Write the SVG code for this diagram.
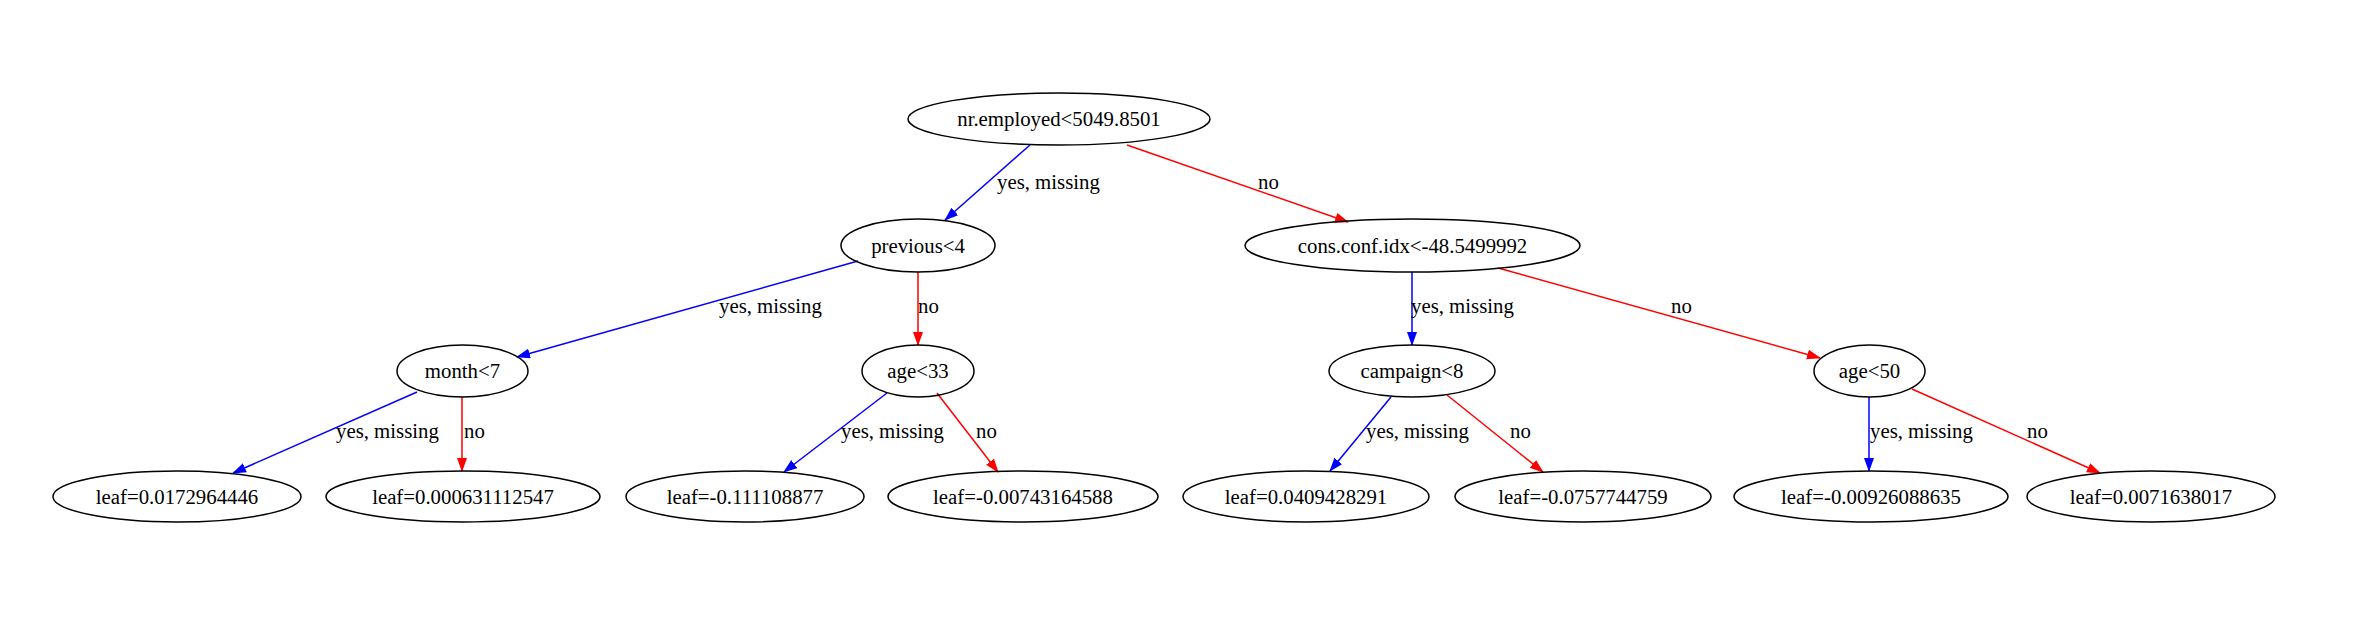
<svg xmlns="http://www.w3.org/2000/svg" width="2359" height="636" viewBox="0 0 2359 636">
<style>
  .node ellipse { fill: none; stroke: #000; stroke-width: 1.5; }
  .node text { font-family: "Liberation Serif", "Times New Roman", serif; font-size: 20.8px; text-anchor: middle; fill: #000; }
  .edge { fill: none; stroke-width: 1.5; }
  .yes { stroke: #0000FF; }
  .no { stroke: #FF0000; }
  .lbl { font-family: "Liberation Serif", "Times New Roman", serif; font-size: 20.8px; fill: #000; }
</style>
<defs>
  <marker id="ab" markerUnits="userSpaceOnUse" markerWidth="15" markerHeight="11" refX="13" refY="5" orient="auto">
    <path d="M0,0 L14,5 L0,10 z" fill="#0000FF"/>
  </marker>
  <marker id="ar" markerUnits="userSpaceOnUse" markerWidth="15" markerHeight="11" refX="13" refY="5" orient="auto">
    <path d="M0,0 L14,5 L0,10 z" fill="#FF0000"/>
  </marker>
</defs>
<rect width="2359" height="636" fill="#fff"/>
<g id="connectors">
  <path class="edge yes" d="M1030,145 L945,220" marker-end="url(#ab)"/>
  <path class="edge no" d="M1127,145 L1348,222" marker-end="url(#ar)"/>
  <path class="edge yes" d="M858,261 L517,357" marker-end="url(#ab)"/>
  <path class="edge no" d="M918,272 L918,345" marker-end="url(#ar)"/>
  <path class="edge yes" d="M1412,272 L1412,345" marker-end="url(#ab)"/>
  <path class="edge no" d="M1498,268 L1820,358" marker-end="url(#ar)"/>
  <path class="edge yes" d="M417,392 L233,473" marker-end="url(#ab)"/>
  <path class="edge no" d="M462,397 L462,471" marker-end="url(#ar)"/>
  <path class="edge yes" d="M887,393 L784,472" marker-end="url(#ab)"/>
  <path class="edge no" d="M937,393 L998,472" marker-end="url(#ar)"/>
  <path class="edge yes" d="M1391,397 L1330,471" marker-end="url(#ab)"/>
  <path class="edge no" d="M1447,395 L1543,472" marker-end="url(#ar)"/>
  <path class="edge yes" d="M1869,397 L1869,471" marker-end="url(#ab)"/>
  <path class="edge no" d="M1912,389 L2100,473" marker-end="url(#ar)"/>
  <text class="lbl" x="997" y="189">yes, missing</text>
  <text class="lbl" x="1258" y="189">no</text>
  <text class="lbl" x="719" y="313">yes, missing</text>
  <text class="lbl" x="918" y="313">no</text>
  <text class="lbl" x="1411" y="313">yes, missing</text>
  <text class="lbl" x="1671" y="313">no</text>
  <text class="lbl" x="336" y="438">yes, missing</text>
  <text class="lbl" x="464" y="438">no</text>
  <text class="lbl" x="841" y="438">yes, missing</text>
  <text class="lbl" x="976" y="438">no</text>
  <text class="lbl" x="1366" y="438">yes, missing</text>
  <text class="lbl" x="1510" y="438">no</text>
  <text class="lbl" x="1870" y="438">yes, missing</text>
  <text class="lbl" x="2027" y="438">no</text>
</g>
<g id="node0" class="node"><ellipse cx="1059" cy="119" rx="151" ry="26"/><text x="1059" y="126">nr.employed&lt;5049.8501</text></g>
<g id="node1" class="node"><ellipse cx="918" cy="245.5" rx="77" ry="26.5"/><text x="918" y="252.5">previous&lt;4</text></g>
<g id="node2" class="node"><ellipse cx="1412.5" cy="245.5" rx="167.5" ry="26.5"/><text x="1412.5" y="252.5">cons.conf.idx&lt;-48.5499992</text></g>
<g id="node3" class="node"><ellipse cx="462.5" cy="371" rx="65.5" ry="26"/><text x="462.5" y="378">month&lt;7</text></g>
<g id="node4" class="node"><ellipse cx="918" cy="371" rx="56" ry="26"/><text x="918" y="378">age&lt;33</text></g>
<g id="node5" class="node"><ellipse cx="1412" cy="371" rx="83" ry="26"/><text x="1412" y="378">campaign&lt;8</text></g>
<g id="node6" class="node"><ellipse cx="1869.5" cy="371" rx="55.5" ry="26"/><text x="1869.5" y="378">age&lt;50</text></g>
<g id="node7" class="node"><ellipse cx="177" cy="496.5" rx="124" ry="25.5"/><text x="177" y="503.5">leaf=0.0172964446</text></g>
<g id="node8" class="node"><ellipse cx="463" cy="496.5" rx="137" ry="25.5"/><text x="463" y="503.5">leaf=0.000631112547</text></g>
<g id="node9" class="node"><ellipse cx="745" cy="496.5" rx="119" ry="25.5"/><text x="745" y="503.5">leaf=-0.111108877</text></g>
<g id="node10" class="node"><ellipse cx="1023" cy="496.5" rx="135" ry="25.5"/><text x="1023" y="503.5">leaf=-0.00743164588</text></g>
<g id="node11" class="node"><ellipse cx="1306" cy="496.5" rx="123" ry="25.5"/><text x="1306" y="503.5">leaf=0.0409428291</text></g>
<g id="node12" class="node"><ellipse cx="1583" cy="496.5" rx="128" ry="25.5"/><text x="1583" y="503.5">leaf=-0.0757744759</text></g>
<g id="node13" class="node"><ellipse cx="1871" cy="496.5" rx="137" ry="25.5"/><text x="1871" y="503.5">leaf=-0.00926088635</text></g>
<g id="node14" class="node"><ellipse cx="2151" cy="496.5" rx="124" ry="25.5"/><text x="2151" y="503.5">leaf=0.0071638017</text></g>
</svg>
